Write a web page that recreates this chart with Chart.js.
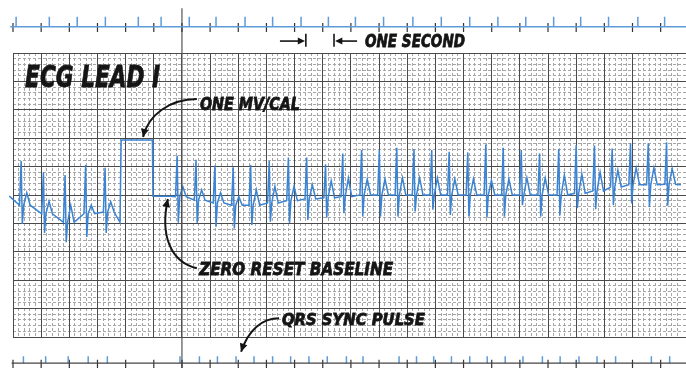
<!DOCTYPE html>
<html>
<head>
<meta charset="utf-8">
<title>ECG Lead I</title>
<script src="https://cdn.jsdelivr.net/npm/chart.js@4.4.1/dist/chart.umd.min.js"></script>
<style>
  html, body { margin: 0; padding: 0; background: #fff; }
  #wrap { width: 686px; height: 368px; }
</style>
</head>
<body>
<div id="wrap"><canvas id="ecg" width="686" height="368"></canvas></div>
<script>
// time in seconds (one big square = one second), amplitude in mV

// trace before the calibration pulse
const leadInTime = [-0.13];
const leadInMv = [-0.02];
const leftR = [0.29, 1.08, 1.85, 2.58, 3.27];
const leftRmv = [0.60, 0.40, 0.35, 0.53, 0.48];
const leftSmv = [-0.51, -0.67, -0.83, -0.74, -0.67];
const leftTmv = [0.04, -0.11, -0.18, -0.18, -0.12];
const leftBase = [-0.18, -0.33, -0.48, -0.33, -0.30];

// one mV calibration pulse, then zero reset
const calTime = [3.80, 3.84, 4.95, 4.97, 5.58];
const calMv = [-0.48, 0.97, 0.97, -0.02, -0.02];

// trace after the reset
const runR = [5.83, 6.50, 7.17, 7.82, 8.44, 9.10, 9.78, 10.43, 11.10, 11.71,
  12.38, 13.01, 13.63, 14.24, 14.87, 15.49, 16.15, 16.79, 17.41, 18.05,
  18.70, 19.38, 20.00, 20.65, 21.28, 21.93, 22.56, 23.21];
const runRmv = [0.69, 0.62, 0.52, 0.49, 0.53, 0.60, 0.66, 0.66, 0.54, 0.73,
  0.79, 0.79, 0.83, 0.81, 0.79, 0.76, 0.75, 0.89, 0.83, 0.79,
  0.73, 0.81, 0.88, 0.87, 0.82, 0.91, 0.91, 0.93];
const runSmv = [-0.49, -0.49, -0.56, -0.59, -0.53, -0.47, -0.49, -0.44, -0.40, -0.32,
  -0.38, -0.38, -0.38, -0.29, -0.26, -0.35, -0.38, -0.40, -0.38, -0.18,
  -0.38, -0.36, -0.23, -0.25, -0.18, -0.15, -0.21, -0.19];
const runTmv = [0.15, 0.09, 0.04, -0.03, 0.09, 0.15, 0.15, 0.18, 0.25, 0.30,
  0.28, 0.28, 0.30, 0.30, 0.30, 0.28, 0.28, 0.26, 0.28, 0.30,
  0.30, 0.35, 0.37, 0.40, 0.44, 0.48, 0.48, 0.46];
const runBase = [-0.03, -0.09, -0.14, -0.18, -0.18, -0.14, -0.10, -0.07, -0.05, -0.03,
  0, 0, 0, 0, 0, 0, 0, 0, 0, 0,
  0, 0, 0.03, 0.07, 0.14, 0.18, 0.18, 0.19];
const tailTime = [23.72];
const tailMv = [0.18];

// timing strips
const secondMarks = [0, 1, 2, 3, 4, 5, 6, 7, 8, 9, 10, 11, 12, 13, 14, 15, 16, 17, 18, 19, 20, 21, 22, 23];
const timePulses = [0.11, 1.29, 2.28, 3.28, 4.45, 5.26, 6.26, 7.21, 8.24, 9.22, 10.23, 11.20,
  12.16, 13.16, 14.20, 15.21, 16.22, 17.22, 18.21, 19.20, 20.16, 21.15, 22.19, 23.14];
const syncPulses = [0.37, 1.16, 1.96, 2.67, 3.35, 5.93, 6.62, 7.26, 7.92, 8.56, 9.22, 9.86,
  10.51, 11.16, 11.84, 12.43, 13.71, 14.33, 14.94, 15.57, 16.22, 16.84, 17.48, 18.11,
  18.80, 19.43, 20.10, 20.74, 21.40, 22.67, 23.32];

const topStrip = 2.96;
const bottomStrip = -2.96;

// one beat: R up, S down, back to baseline, T hump
function beat(r, rv, sv, tv, b) {
  return [
    { x: r - 0.06, y: b },
    { x: r, y: rv },
    { x: r + 0.04, y: sv },
    { x: r + 0.09, y: b },
    { x: r + 0.20, y: tv },
    { x: r + 0.32, y: b }
  ];
}

let trace = [];
leadInTime.forEach((t, i) => trace.push({ x: t, y: leadInMv[i] }));
leftR.forEach((r, i) => { trace = trace.concat(beat(r, leftRmv[i], leftSmv[i], leftTmv[i], leftBase[i])); });
calTime.forEach((t, i) => trace.push({ x: t, y: calMv[i] }));
runR.forEach((r, i) => { trace = trace.concat(beat(r, runRmv[i], runSmv[i], runTmv[i], runBase[i])); });
tailTime.forEach((t, i) => trace.push({ x: t, y: tailMv[i] }));

function spikes(times, base, lo, hi) {
  const pts = [];
  times.forEach(t => {
    pts.push({ x: t, y: base + lo }, { x: t, y: base + hi }, { x: t, y: null });
  });
  return pts;
}

const stripBlue = '#5e9bd8';
const ink = '#151515';

function arrowHead(ctx, x, y, ang, len) {
  ctx.beginPath();
  ctx.moveTo(x, y);
  ctx.lineTo(x - len * Math.cos(ang - 0.45), y - len * Math.sin(ang - 0.45));
  ctx.lineTo(x - len * Math.cos(ang + 0.45), y - len * Math.sin(ang + 0.45));
  ctx.closePath();
  ctx.fill();
}

function handLabel(ctx, text, px, py, w, h) {
  const size = h / 0.73;
  ctx.save();
  ctx.font = 'italic bold ' + size + 'px "DejaVu Sans"';
  const m = ctx.measureText(text).width;
  ctx.translate(px, py);
  ctx.scale(w / m, 1);
  ctx.textBaseline = 'alphabetic';
  ctx.fillStyle = ink;
  ctx.strokeStyle = ink;
  ctx.lineWidth = 0.8;
  ctx.fillText(text, 0, 0);
  ctx.strokeText(text, 0, 0);
  ctx.restore();
}

// hand lettering and leader arrows
const notes = {
  id: 'notes',
  afterDatasetsDraw(chart) {
    const { ctx } = chart;
    const sx = chart.scales.x, sy = chart.scales.y;
    const P = (t, v) => [sx.getPixelForValue(t), sy.getPixelForValue(v)];
    ctx.save();
    ctx.fillStyle = ink;
    ctx.strokeStyle = ink;

    let a = P(0.43, 1.90);
    handLabel(ctx, 'ECG LEAD I', a[0], a[1], 135, 22);
    a = P(6.64, 1.50);
    handLabel(ctx, 'ONE MV/CAL', a[0], a[1], 100, 13);
    a = P(12.50, 2.60);
    handLabel(ctx, 'ONE SECOND', a[0], a[1], 100, 12.5);
    a = P(6.61, -1.41);
    handLabel(ctx, 'ZERO RESET BASELINE', a[0], a[1], 194, 13.5);
    a = P(9.55, -2.29);
    handLabel(ctx, 'QRS SYNC PULSE', a[0], a[1], 143, 12);

    // curved leaders
    const leaders = [
      [[6.53, 1.69], [5.58, 1.69], [4.79, 1.41], [4.62, 1.02]],
      [[6.53, -1.29], [5.58, -1.18], [5.22, -0.70], [5.50, -0.07]],
      [[9.45, -2.17], [8.84, -2.17], [8.35, -2.38], [8.10, -2.76]]
    ];
    ctx.lineWidth = 2;
    leaders.forEach(l => {
      const p = l.map(q => P(q[0], q[1]));
      ctx.beginPath();
      ctx.moveTo(p[0][0], p[0][1]);
      ctx.bezierCurveTo(p[1][0], p[1][1], p[2][0], p[2][1], p[3][0], p[3][1]);
      ctx.stroke();
      arrowHead(ctx, p[3][0], p[3][1], Math.atan2(p[3][1] - p[2][1], p[3][0] - p[2][0]), 9);
    });

    // one second bracket
    ctx.lineWidth = 1.6;
    let s0 = P(9.48, 2.71), s1 = P(10.30, 2.71);
    ctx.beginPath(); ctx.moveTo(s0[0], s0[1]); ctx.lineTo(s1[0], s1[1]); ctx.stroke();
    a = P(10.37, 2.71);
    arrowHead(ctx, a[0], a[1], 0, 8);
    s0 = P(10.40, 2.84); s1 = P(10.40, 2.61);
    ctx.beginPath(); ctx.moveTo(s0[0], s0[1]); ctx.lineTo(s1[0], s1[1]); ctx.stroke();
    s0 = P(11.40, 2.84); s1 = P(11.40, 2.61);
    ctx.beginPath(); ctx.moveTo(s0[0], s0[1]); ctx.lineTo(s1[0], s1[1]); ctx.stroke();
    a = P(11.44, 2.71);
    arrowHead(ctx, a[0], a[1], Math.PI, 8);
    s0 = P(11.50, 2.71); s1 = P(12.22, 2.71);
    ctx.beginPath(); ctx.moveTo(s0[0], s0[1]); ctx.lineTo(s1[0], s1[1]); ctx.stroke();
    ctx.restore();
  }
};

function paperAxis(step, color, dash, horizontal) {
  return {
    type: 'linear',
    position: horizontal ? 'bottom' : 'left',
    min: horizontal ? 0 : -2.5,
    max: horizontal ? 23.9 : 2.5,
    ticks: { display: false, stepSize: step, autoSkip: false },
    grid: { color: color, lineWidth: 1, drawTicks: false },
    border: { display: false, dash: dash },
    afterFit(s) { if (horizontal) { s.height = 0; } else { s.width = 0; } }
  };
}

const ctx = document.getElementById('ecg').getContext('2d');
const chart = new Chart(ctx, {
  type: 'line',
  data: {
    datasets: [
      { data: [{ x: -0.1, y: topStrip }, { x: 23.9, y: topStrip }], borderColor: stripBlue, borderWidth: 1.5 },
      { data: spikes(timePulses, topStrip, 0, 0.18), borderColor: stripBlue, borderWidth: 1.5 },
      { data: spikes(secondMarks, topStrip, -0.09, 0.07), borderColor: '#333', borderWidth: 1.2 },
      { data: [{ x: -0.05, y: bottomStrip }, { x: 23.9, y: bottomStrip }], borderColor: '#444', borderWidth: 1.2 },
      { data: spikes(syncPulses, bottomStrip, 0, 0.12), borderColor: stripBlue, borderWidth: 1.5 },
      { data: spikes(secondMarks, bottomStrip, -0.1, 0.06), borderColor: '#333', borderWidth: 1.2 },
      { data: [{ x: 6, y: 3.29 }, { x: 6, y: -3.05 }], borderColor: '#555', borderWidth: 1.2 },
      { data: trace, borderColor: '#3b83d3', borderWidth: 1.5 }
    ].map(d => Object.assign({ pointRadius: 0, tension: 0, clip: false, fill: false }, d))
  },
  options: {
    responsive: false,
    animation: false,
    layout: { padding: { left: 13, right: 0, top: 53, bottom: 31 } },
    plugins: { legend: { display: false }, tooltip: { enabled: false } },
    scales: {
      xMinor: paperAxis(0.2, '#a6a6a6', [3, 2], true),
      yMinor: paperAxis(0.1, '#a6a6a6', [3, 2], false),
      x: paperAxis(1, '#4a4a4a', [], true),
      y: paperAxis(0.5, '#4a4a4a', [], false)
    }
  },
  plugins: [notes]
});
</script>
</body>
</html>
